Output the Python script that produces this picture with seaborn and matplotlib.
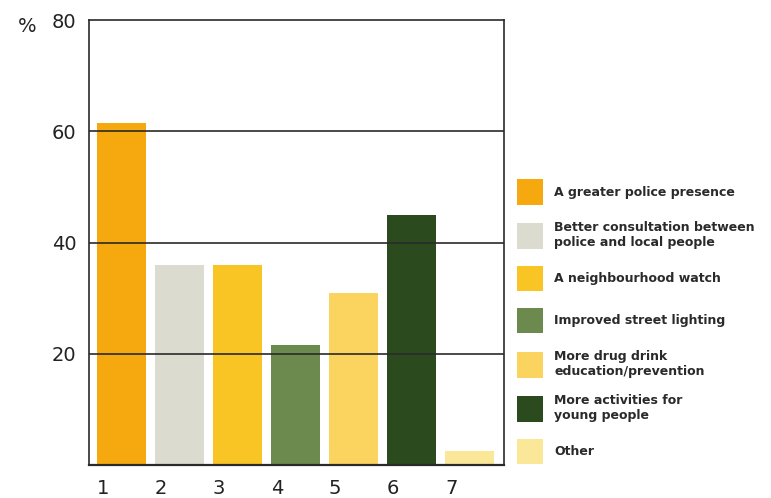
import matplotlib
matplotlib.use("Agg")
import matplotlib.pyplot as plt
from matplotlib.patches import Patch
from matplotlib.transforms import ScaledTranslation
import seaborn as sns
import pandas as pd

# Survey answers: what would make the area safer (%)
categories = ["1", "2", "3", "4", "5", "6", "7"]
values = [61.5, 36, 36, 21.5, 31, 45, 2.5]
labels = [
    "A greater police presence",
    "Better consultation between\npolice and local people",
    "A neighbourhood watch",
    "Improved street lighting",
    "More drug drink\neducation/prevention",
    "More activities for\nyoung people",
    "Other",
]
colors = ["#F6A90E", "#DBDCCF", "#F8C525", "#6C8A4D", "#FAD45E", "#2B4A1D", "#FAE798"]
yticks = [20, 40, 60, 80]

sns.set_theme(style="white")
plt.rcParams["font.family"] = ["DejaVu Sans"]

df = pd.DataFrame({"item": categories, "pct": values})

fig = plt.figure(figsize=(7.71, 4.98), dpi=100)
ax = fig.add_axes([89 / 771, 1 - 465 / 498, (504 - 89) / 771, (465 - 20) / 498])

sns.barplot(data=df, x="item", y="pct", hue="item", palette=colors,
            width=0.845, legend=False, ax=ax, saturation=1, linewidth=0)

ax.set_ylim(0, 80)
ax.set_xlim(-0.552, 6.60)
ax.set_xlabel("")
ax.set_ylabel("")
ax.set_yticks(yticks)
ax.set_yticklabels([str(t) for t in yticks])

# Horizontal rules drawn over the bars
for t in yticks[:-1]:
    ax.axhline(t, color="#2a2a2a", lw=1.2, zorder=3)

for side in ["left", "right", "top", "bottom"]:
    ax.spines[side].set_visible(True)
    ax.spines[side].set_color("#2a2a2a")
    ax.spines[side].set_linewidth(1.2)
ax.spines["bottom"].set_linewidth(1.6)

ax.tick_params(axis="both", length=0, labelsize=14, colors="#222222")
ax.tick_params(axis="y", pad=9)
ax.tick_params(axis="x", pad=10)

# Category numbers sit slightly left of their bars
shift = ScaledTranslation(-18 / 100, 0, fig.dpi_scale_trans)
for lab in ax.get_xticklabels():
    lab.set_transform(lab.get_transform() + shift)

fig.text(18 / 771, 1 - 26 / 498, "%", fontsize=14, color="#222222", va="center")

handles = [Patch(facecolor=c, edgecolor="none") for c in colors]
fig.legend(handles, labels, loc="upper left",
           bbox_to_anchor=(517 / 771, 1 - 179 / 498),
           frameon=False, prop={"weight": "bold", "size": 9},
           handlelength=2.1, handleheight=2.8, handletextpad=0.9,
           labelspacing=1.3, borderpad=0, borderaxespad=0,
           labelcolor="#2a2a2a")

fig.savefig("out.png", dpi=100)
